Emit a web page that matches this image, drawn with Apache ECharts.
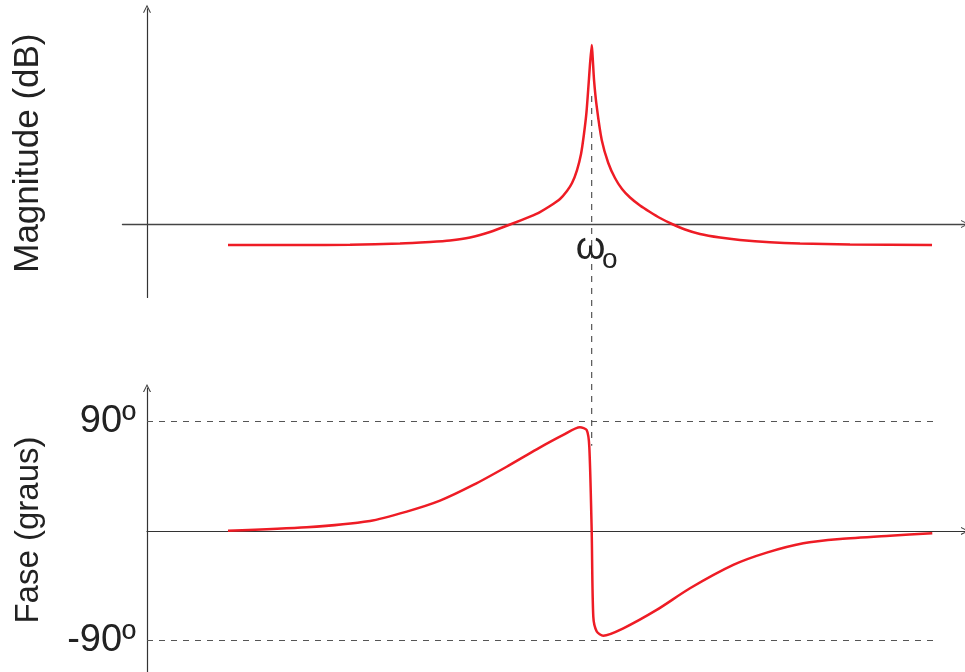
<!DOCTYPE html>
<html>
<head>
<meta charset="utf-8">
<script src="https://cdn.jsdelivr.net/npm/echarts@6/dist/echarts.min.js"></script>
<style>
  html, body { margin: 0; padding: 0; background: #fff; }
  #main { width: 965px; height: 672px; }
</style>
</head>
<body>
<div id="main"></div>
<script>
// frequência (unidades arbitrárias, 0 = eixo vertical) e ressonância
var omega0 = 54.36;

// curva de magnitude (dB)
var magFreq = [9.9, 18.7, 24.82, 30.93, 34.6, 37.04, 39.49, 41.93, 44.38, 46.82, 48.04, 49.27, 50.49,
  51.34, 51.96, 52.57, 53.06, 53.42, 53.73, 54.03, 54.36,
  54.65, 54.98, 55.59, 56.39, 57.21, 58.07, 59.05, 60.27, 61.49, 62.71, 64.18, 65.77,
  67.6, 70.05, 72.49, 76.16, 79.83, 85.94, 95.97];
var magDb = [-2.0, -2.0, -1.97, -1.86, -1.71, -1.57, -1.29, -0.76, -0.05, 0.71, 1.14, 1.71, 2.38,
  3.14, 3.9, 5.14, 6.67, 8.57, 10.67, 13.81, 17.05,
  13.71, 11.17, 8.0, 5.81, 4.38, 3.33, 2.52, 1.76, 1.14, 0.57, 0, -0.52,
  -0.95, -1.29, -1.52, -1.74, -1.86, -1.95, -2.0];

// curva de fase (graus)
var phaseFreq = [9.9, 19.52, 27.26, 31.75, 35.82, 39.89, 43.97, 47.64, 50.89, 52.93, 53.75, 54.07,
  54.36, 54.56, 54.98, 55.78, 58.23, 62.31, 66.38, 71.67, 75.76, 80.23, 84.72, 90.83, 96.0];
var phaseDeg = [0.2, 3.0, 8.2, 15.9, 24.9, 37.8, 52.8, 67.1, 78.9, 85.2, 83.0, 69.3,
  0.8, -70.4, -82.6, -86.1, -80.0, -64.9, -47.1, -27.9, -17.8, -10.1, -6.6, -3.9, -1.9];

var phaseTicks = [90, -90];
var refEnd = 96.4;

var red = '#ee1c25';
var axisColor = '#333';
var textColor = '#222';
var arrowPath = 'path://M0,10 L5,0 L10,10 L8.6,10 L5,2.6 L1.4,10 Z';

function zip(xs, ys) {
  return xs.map(function (x, i) { return [x, ys[i]]; });
}

var chartDom = document.getElementById('main');
var myChart = echarts.init(chartDom);

var option = {
  animation: false,
  grid: [
    { left: 122.46, right: 0, top: 8.75, height: 288.75, outerBoundsMode: 'none' },
    { left: 147, right: 0, top: 388, height: 284.1, outerBoundsMode: 'none' }
  ],
  xAxis: [
    {
      gridIndex: 0, type: 'value', min: -3, max: 100,
      splitLine: { show: false },
      axisTick: { show: false },
      axisLabel: { show: false },
      axisLine: {
        onZero: true, symbol: ['none', arrowPath], symbolSize: [10, 8],
        lineStyle: { color: '#444', width: 1.3 }
      }
    },
    {
      gridIndex: 1, type: 'value', min: 0, max: 100,
      splitLine: { show: false },
      axisTick: { show: false },
      axisLabel: { show: false },
      axisLine: {
        onZero: true, symbol: ['none', arrowPath], symbolSize: [10, 8],
        lineStyle: { color: axisColor, width: 1.2 }
      }
    }
  ],
  yAxis: [
    {
      gridIndex: 0, type: 'value', min: -7, max: 20.5,
      splitLine: { show: false },
      axisTick: { show: false },
      axisLabel: { show: false },
      axisLine: {
        onZero: true, symbol: ['none', arrowPath], symbolSize: [10, 8],
        lineStyle: { color: axisColor, width: 1.2 }
      },
      name: 'Magnitude (dB)',
      nameLocation: 'middle',
      nameGap: 77,
      nameTextStyle: { fontFamily: 'Liberation Sans', fontSize: 35, color: textColor }
    },
    {
      gridIndex: 1, type: 'value', min: -116, max: 117.5,
      splitLine: { show: false },
      axisTick: { show: false },
      axisLine: {
        onZero: true, symbol: ['none', arrowPath], symbolSize: [10, 8],
        lineStyle: { color: axisColor, width: 1.2 }
      },
      axisLabel: {
        customValues: phaseTicks,
        margin: 11,
        formatter: function (v) { return v + 'º'; },
        fontFamily: 'Liberation Sans', fontSize: 38, color: textColor
      },
      name: 'Fase (graus)',
      nameLocation: 'middle',
      nameGap: 102,
      nameTextStyle: { fontFamily: 'Liberation Sans', fontSize: 33, color: textColor }
    }
  ],
  series: [
    {
      name: 'magnitude',
      type: 'line',
      xAxisIndex: 0, yAxisIndex: 0,
      data: zip(magFreq, magDb),
      showSymbol: false,
      smooth: 0.2,
      lineStyle: { color: red, width: 2.5 }
    },
    {
      name: 'fase',
      type: 'line',
      xAxisIndex: 1, yAxisIndex: 1,
      data: zip(phaseFreq, phaseDeg),
      showSymbol: false,
      smooth: 0.25,
      lineStyle: { color: red, width: 2.5 },
      markLine: {
        silent: true,
        symbol: 'none',
        label: { show: false },
        lineStyle: { color: '#555', width: 1.2, type: [6, 6] },
        data: phaseTicks.map(function (v) {
          return [{ coord: [0, v] }, { coord: [refEnd, v] }];
        })
      }
    }
  ]
};

myChart.setOption(option);

// linha tracejada vertical em ω0 e o rótulo ωo
var pTop = myChart.convertToPixel({ gridIndex: 0 }, [omega0, 12.2]);
var pAxis = myChart.convertToPixel({ gridIndex: 0 }, [omega0, 0]);
var pBot = myChart.convertToPixel({ gridIndex: 1 }, [omega0, 70]);
myChart.setOption({
  graphic: [
    {
      type: 'line',
      silent: true,
      z: -1,
      shape: { x1: pTop[0], y1: pTop[1], x2: pBot[0], y2: pBot[1] },
      style: { stroke: '#555', lineWidth: 1.2, lineDash: [6, 6] }
    },
    {
      type: 'text',
      silent: true,
      style: {
        x: pAxis[0] - 1, y: pAxis[1] + 44, text: 'ω',
        font: '38px "Liberation Sans"', fill: textColor,
        textAlign: 'center', textVerticalAlign: 'bottom'
      }
    },
    {
      type: 'text',
      silent: true,
      style: {
        x: pAxis[0] + 18, y: pAxis[1] + 50, text: 'o',
        font: '28px "Liberation Sans"', fill: textColor,
        textAlign: 'center', textVerticalAlign: 'bottom'
      }
    }
  ]
});
</script>
</body>
</html>
